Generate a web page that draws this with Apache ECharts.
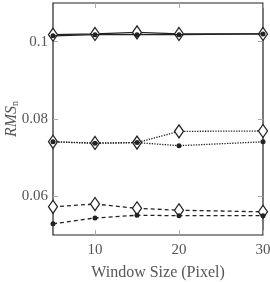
<!DOCTYPE html>
<html>
<head>
<meta charset="utf-8">
<script src="https://cdn.jsdelivr.net/npm/echarts@6/dist/echarts.min.js"></script>
<style>
  html, body { margin: 0; padding: 0; background: #fff; }
  #chart { width: 270px; height: 282px; }
</style>
</head>
<body>
<div id="chart"></div>
<script>
// window sizes
const windowSizes = [5, 10, 15, 20, 30];
// solid pair
const solidDiamond = [0.1018, 0.1020, 0.1024, 0.1020, 0.1020];
const solidDot = [0.1015, 0.1018, 0.1018, 0.1018, 0.1020];
// dotted pair
const dottedDiamond = [0.0741, 0.0738, 0.0739, 0.0768, 0.0769];
const dottedDot = [0.0741, 0.0737, 0.0739, 0.0731, 0.0741];
// dashed pair
const dashedDiamond = [0.0573, 0.0580, 0.0569, 0.0564, 0.0560];
const dashedDot = [0.0529, 0.0544, 0.0551, 0.0550, 0.0550];

const xTicks = [10, 20, 30];
const yTicks = [0.06, 0.08, 0.1];

const FONT = 'Liberation Serif';
const INK = '#222';

function pairs(ys) {
  return windowSizes.map((x, i) => [x, ys[i]]);
}

function line(data, type, diamond) {
  return {
    type: 'line',
    data: pairs(data),
    z: diamond ? 3 : 4,
    symbol: diamond ? 'diamond' : 'circle',
    symbolSize: diamond ? [9, 13] : 5,
    itemStyle: {
      color: diamond ? '#fff' : INK,
      borderColor: INK,
      borderWidth: diamond ? 1.3 : 0,
    },
    lineStyle: { color: INK, width: 1.3, type: type },
    animation: false,
  };
}

const tickStyle = { show: true, inside: true, length: 5, lineStyle: { color: '#aaa', width: 1 } };

const chart = echarts.init(document.getElementById('chart'));
chart.setOption({
  grid: {
    left: 53, right: 7, top: 3, bottom: 47,
    outerBoundsMode: 'none', containLabel: false,
    show: true, borderColor: INK, borderWidth: 1.2,
  },
  xAxis: [
    {
      type: 'value', min: 5, max: 30,
      name: 'Window Size (Pixel)', nameLocation: 'middle', nameGap: 30,
      nameMoveOverlap: false,
      nameTextStyle: { fontFamily: FONT, fontSize: 16, color: '#555' },
      axisLine: { show: false },
      axisTick: Object.assign({ customValues: xTicks }, tickStyle),
      axisLabel: { customValues: xTicks, fontFamily: FONT, fontSize: 15, color: '#555', margin: 8 },
      splitLine: { show: false },
    },
    {
      type: 'value', min: 5, max: 30, position: 'top',
      axisLine: { show: false },
      axisTick: Object.assign({ customValues: xTicks }, tickStyle),
      axisLabel: { show: false },
      splitLine: { show: false },
    },
  ],
  yAxis: [
    {
      type: 'value', min: 0.05, max: 0.11,
      name: '{i|RMS}{s|n}', nameLocation: 'middle', nameGap: 33,
      nameMoveOverlap: false,
      nameTextStyle: {
        rich: {
          i: { fontFamily: FONT, fontStyle: 'italic', fontSize: 16, color: '#555' },
          s: { fontFamily: FONT, fontSize: 10, color: '#555', padding: [6, 0, 0, 0] },
        },
      },
      axisLine: { show: false },
      axisTick: Object.assign({ customValues: yTicks }, tickStyle),
      axisLabel: { customValues: yTicks, fontFamily: FONT, fontSize: 15, color: '#555', margin: 5 },
      splitLine: { show: false },
    },
    {
      type: 'value', min: 0.05, max: 0.11, position: 'right',
      axisLine: { show: false },
      axisTick: Object.assign({ customValues: yTicks }, tickStyle),
      axisLabel: { show: false },
      splitLine: { show: false },
    },
  ],
  series: [
    line(solidDiamond, 'solid', true),
    line(solidDot, 'solid', false),
    line(dottedDiamond, 'dotted', true),
    line(dottedDot, 'dotted', false),
    line(dashedDiamond, [4, 3], true),
    line(dashedDot, [4, 3], false),
  ],
});
</script>
</body>
</html>
